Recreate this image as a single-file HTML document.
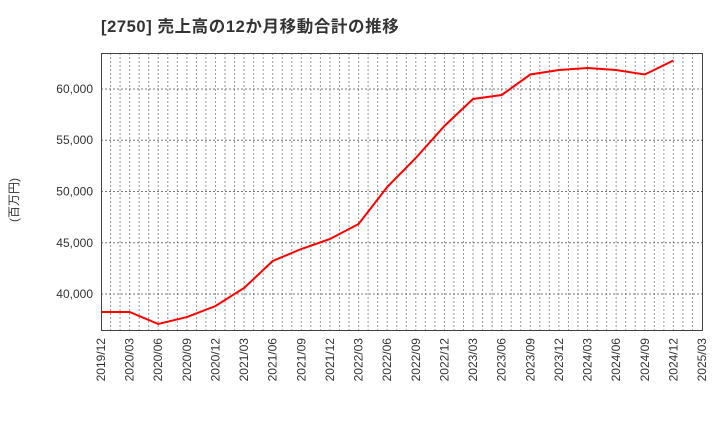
<!DOCTYPE html>
<html><head><meta charset="utf-8"><style>
body{margin:0;background:#fff;}
svg{display:block;font-family:"Liberation Sans","Noto Sans CJK JP",sans-serif;}
</style></head><body>
<svg id="chart" width="720" height="440">
<text x="101" y="32" font-size="16.5" font-weight="bold" letter-spacing="0.6" fill="#333">[2750]  売上高の12か月移動合計の推移</text>
<text transform="translate(18,200) rotate(-90)" text-anchor="middle" font-size="12" fill="#333">(百万円)</text>
<g id="grid"></g><g id="yticks"></g><g id="xticks"></g>
<rect x="101.5" y="53.5" width="601" height="277" fill="none" stroke="#444" stroke-width="1"/>
<path id="line" fill="none" stroke="#ff0000" stroke-width="2"/>
</svg>
<script>
const categories=["2019/12","2020/03","2020/06","2020/09","2020/12","2021/03","2021/06","2021/09","2021/12","2022/03","2022/06","2022/09","2022/12","2023/03","2023/06","2023/09","2023/12","2024/03","2024/06","2024/09","2024/12"];
const values=[38240,38240,37070,37750,38830,40590,43220,44390,45370,46830,50440,53270,56390,59020,59410,61410,61850,62050,61850,61410,62780];
const xTickLabels=["2019/12","2020/03","2020/06","2020/09","2020/12","2021/03","2021/06","2021/09","2021/12","2022/03","2022/06","2022/09","2022/12","2023/03","2023/06","2023/09","2023/12","2024/03","2024/06","2024/09","2024/12","2025/03"];
const yTicks=[40000,45000,50000,55000,60000];
const L=101,R=702,T=53,B=330,yMin=36488,yMax=63512,months=63;
const NS="http://www.w3.org/2000/svg";
function idx(lbl){const[y,m]=lbl.split("/").map(Number);return (y-2019)*12+(m-12);}
function x(i){return L+(R-L)*i/months;}
function y(v){return B-(v-yMin)/(yMax-yMin)*(B-T);}
function mk(tag,attrs,parent,text){const e=document.createElementNS(NS,tag);for(const k in attrs)e.setAttribute(k,attrs[k]);if(text!=null)e.textContent=text;document.getElementById(parent).appendChild(e);return e;}
for(let m=1;m<months;m++){
  const e=mk("line",{x1:x(m),x2:x(m),y1:T,y2:B,stroke:"#999","stroke-dasharray":"2,2","stroke-width":1},"grid");
  
  
}
yTicks.forEach(v=>{
  const g=mk("line",{x1:L,x2:R,y1:y(v),y2:y(v),stroke:"#777","stroke-dasharray":"2,2","stroke-width":1},"grid");
  
  
  const t=mk("text",{x:93,y:y(v)+4,"text-anchor":"end","font-size":12,fill:"#333"},"yticks",v.toLocaleString("en-US"));
  
  
});
xTickLabels.forEach(l=>{
  const xx=x(idx(l));
  const t=mk("text",{transform:`translate(${xx+4},338) rotate(-90)`,"text-anchor":"end","font-size":12,fill:"#333"},"xticks",l);
  
  
});
document.getElementById("line").setAttribute("d",values.map((v,i)=>(i?"L":"M")+x(idx(categories[i])).toFixed(1)+","+y(v).toFixed(1)).join(""));
</script>
</body></html>
